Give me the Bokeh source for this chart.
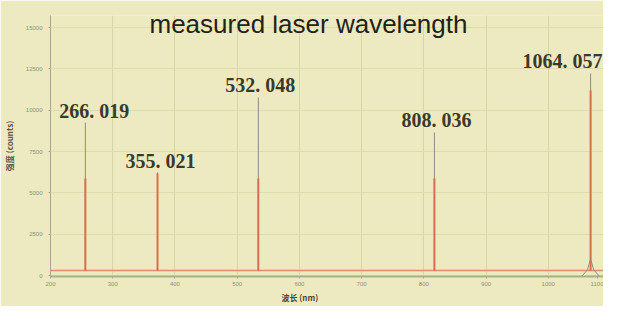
from bokeh.plotting import figure
from bokeh.models import ColumnDataSource, Range1d, FixedTicker, Title, Label
from bokeh.core.properties import value
from bokeh.embed import file_html
from bokeh.resources import INLINE

# ---- data ----
x_ticks = [200, 300, 400, 500, 600, 700, 800, 900, 1000, 1100]
y_ticks = [0, 2500, 5000, 7500, 10000, 12500, 15000]
peak_x = [256, 372, 534, 817, 1068]            # wavelength position of each spike (nm)
peak_red = [5870, 6170, 5870, 5870, 11190]     # intensity of red spectrum spikes
peak_marker = [9250, 6230, 10770, 8650, 12220] # top of grey marker lines
peak_labels = ["266. 019", "355. 021", "532. 048", "808. 036", "1064. 057"]
baseline_x = [200, 1100]
baseline_y = [300, 300]
skirt_x = [1054, 1063, 1068, 1073, 1082]
skirt_y = [-40, 350, 1000, 350, -40]

BG = "#EDEAC1"
RED = "#DC6E50"
GREY = "#8E8C78"
X_END = 200 + (603 - 50) * 900 / 560

p = figure(width=603, height=306, output_backend="svg", toolbar_location=None,
           x_range=Range1d(200, X_END), y_range=Range1d(-60, 15726),
           min_border_left=50, min_border_right=0, min_border_top=15, min_border_bottom=30)
p.background_fill_color = BG
p.border_fill_color = BG
p.outline_line_color = None

# axes: the last tick (1100) lies just past the right edge of the page,
# so its label is drawn at the right edge of the frame
edge_tick = X_END - 10
shown_ticks = [t for t in x_ticks if t <= X_END] + [edge_tick]
p.xaxis.ticker = FixedTicker(ticks=shown_ticks)
p.xaxis.major_label_overrides = {edge_tick: str(x_ticks[-1])}
p.yaxis.ticker = FixedTicker(ticks=y_ticks)
for ax in (p.xaxis[0], p.yaxis[0]):
    ax.major_label_text_font_size = "6px"
    ax.major_label_text_color = "#8F8E7A"
    ax.major_label_text_font = "Liberation Sans"
    ax.major_tick_in = 0
    ax.major_tick_out = 2
    ax.minor_tick_line_color = None
    ax.major_tick_line_color = "#A9A88C"
p.xaxis.axis_line_color = "#A3B586"
p.xaxis.axis_line_width = 2
p.yaxis.axis_line_color = "#A9A88C"
p.xaxis.major_label_standoff = 3
p.yaxis.major_label_standoff = 6
p.yaxis.axis_label = "强度 (counts)"
p.yaxis.axis_label_text_font = "Noto Sans CJK SC"
p.yaxis.axis_label_text_font_size = "8px"
p.yaxis.axis_label_text_font_style = "bold"
p.yaxis.axis_label_text_color = "#5A5848"
p.yaxis.axis_label_standoff = 8

p.xgrid.ticker = FixedTicker(ticks=x_ticks)
p.ygrid.ticker = FixedTicker(ticks=y_ticks)
p.xgrid.grid_line_color = "#D8D6A6"
p.ygrid.grid_line_color = "#DEDBAE"

# red baseline
p.line(baseline_x, baseline_y, line_color="#E08C6C", line_width=1.5)

# grey marker lines from baseline up to label
n = len(peak_x)
p.segment(x0=peak_x, y0=[baseline_y[0]] * n, x1=peak_x, y1=peak_marker,
          line_color=GREY, line_width=1)
# red spikes
p.segment(x0=peak_x, y0=[baseline_y[0]] * n, x1=peak_x, y1=peak_red,
          line_color=RED, line_width=2)
# skirt at 1064 peak
p.line(skirt_x, skirt_y, line_color=GREY, line_width=1)

# peak labels
x_off = [9, 3, 2, 2, -28]
src = ColumnDataSource(dict(x=peak_x, y=peak_marker, text=peak_labels, xo=x_off,
                            yo=[-12] * n))
p.text(x="x", y="y", text="text", x_offset="xo", y_offset="yo", source=src,
       text_align="center", text_baseline="middle",
       text_font=value("Liberation Serif"), text_font_style="bold",
       text_font_size="20px", text_color="#3A3A2C")

# title inside plot
p.add_layout(Label(x=614.6, y=15200, text="measured laser wavelength",
                   text_align="center", text_baseline="alphabetic",
                   text_font="Liberation Sans", text_font_size="26px",
                   text_color="#222218"))
# x-axis label, as a title panel below the axis
p.add_layout(Title(text="波长 (nm)", align="left", offset=231, standoff=2,
                   text_font="Noto Sans CJK SC", text_font_size="8px",
                   text_font_style="bold", text_color="#4A4838"), "below")

open("out.html", "w").write(file_html(p, INLINE))
